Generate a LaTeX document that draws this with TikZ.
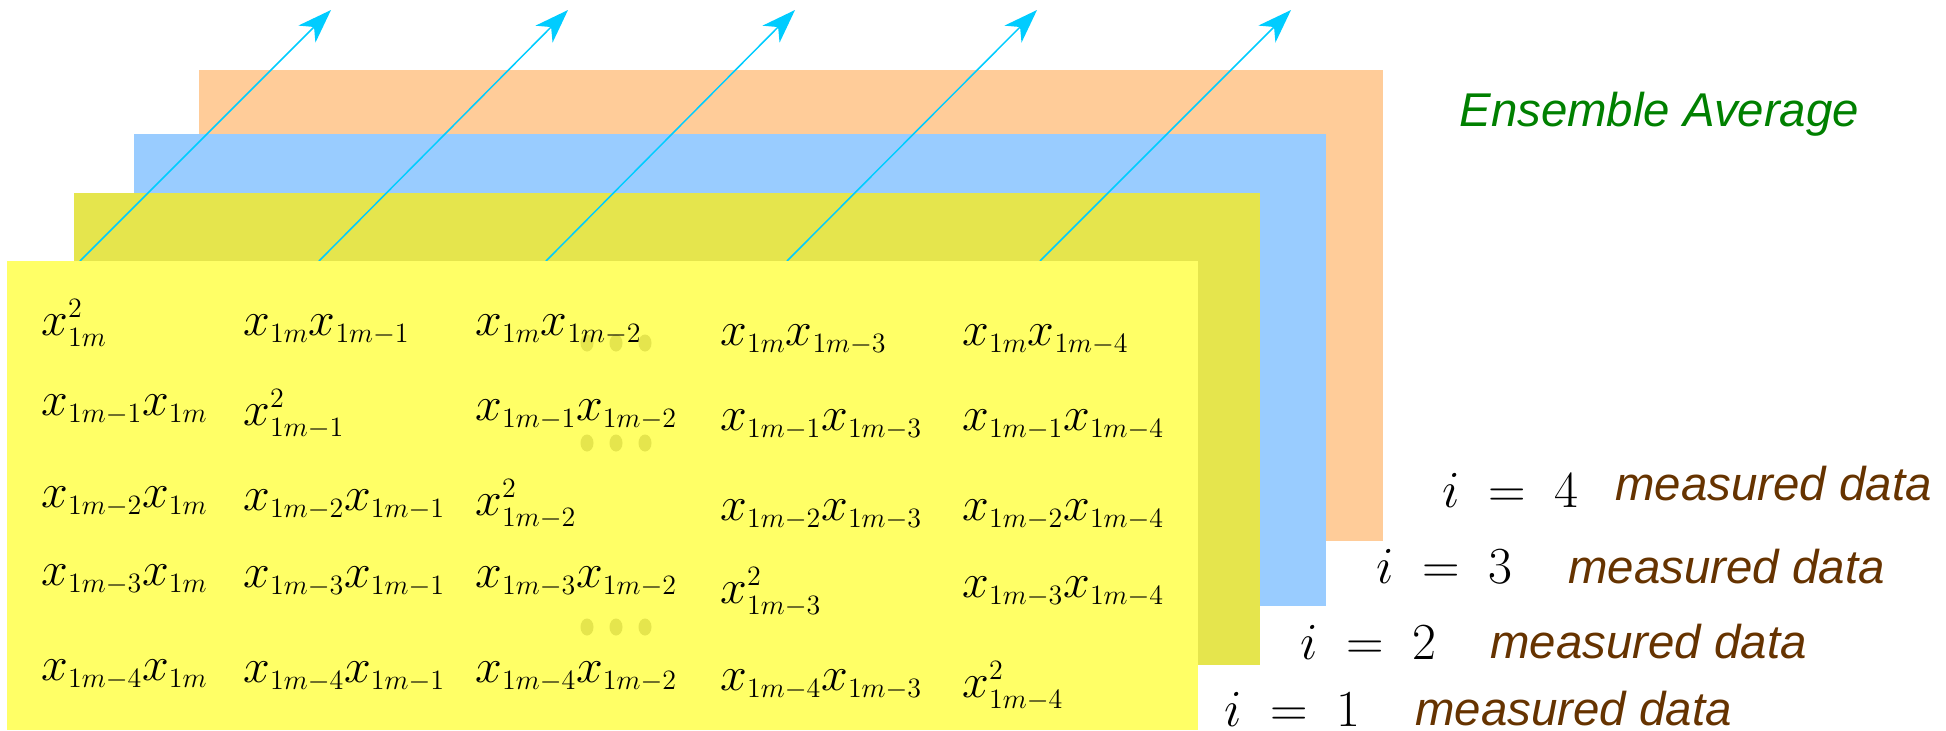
\RequirePackage{fix-cm}
\documentclass[tikz,border=0pt]{standalone}
\usepackage{fontspec}
\usetikzlibrary{arrows.meta,shapes.geometric}
\newfontfamily\lsans{Liberation Sans}
\DeclareMathSizes{24}{24}{14}{10}
\definecolor{peach}{HTML}{FFCC99}
\definecolor{skyb}{HTML}{99CCFF}
\definecolor{olivey}{HTML}{E5E54D}
\definecolor{yel}{HTML}{FFFF66}
\definecolor{arrc}{HTML}{00CCFF}
\definecolor{brn}{HTML}{663300}
\definecolor{grn}{HTML}{008000}
\tikzset{
  term/.style={anchor=base west, inner sep=0pt, font=\fontsize{24}{28}\selectfont},
  ilabel/.style={anchor=base west, inner sep=0pt, font=\fontsize{26}{30}\selectfont},
  mlabel/.style={anchor=base west, inner sep=0pt, text=brn, font=\lsans\itshape\fontsize{23.7}{28}\selectfont},
  avg/.style={line width=0.75pt, draw=arrc, -{Stealth[length=17pt,width=12pt,inset=5pt,fill=arrc]}},
  dotmark/.style={fill=olivey, draw=none, ellipse, minimum width=6.5pt, minimum height=8.5pt, inner sep=0pt}
}
\begin{document}
\begin{tikzpicture}[x=0.5pt,y=-0.5pt]
\useasboundingbox (0,0) rectangle (1946,730);
% layers
\fill[peach] (199,70) rectangle (1383,541);
\fill[skyb] (134,134) rectangle (1326,606);
\fill[olivey] (74,193) rectangle (1260,665);
% ensemble average arrows
\coordinate (s1) at (80,261);   \coordinate (t1) at (331,10);
\coordinate (s2) at (319,261);  \coordinate (t2) at (568,10);
\coordinate (s3) at (546,261);  \coordinate (t3) at (795,10);
\coordinate (s4) at (787,261);  \coordinate (t4) at (1037,10);
\coordinate (s5) at (1040,261); \coordinate (t5) at (1291,10);
\foreach \k in {1,...,5} { \draw[avg] (s\k) -- (t\k); }
\fill[yel] (7,261) rectangle (1198,730);
% dots
\foreach \y [count=\r] in {343,443,627} {
  \node[dotmark] (d\r a) at (587,\y) {};
  \node[dotmark] (d\r b) at (616,\y) {};
  \node[dotmark] (d\r c) at (645,\y) {};
}
% matrix terms
% row 1
\node[term] (m11) at (41,335)  {$x^{2}_{1m}$};
\node[term] (m12) at (243,335) {$x_{1m}x_{1m-1}$};
\node[term] (m13) at (475,335) {$x_{1m}x_{1m-2}$};
\node[term] (m14) at (720,345) {$x_{1m}x_{1m-3}$};
\node[term] (m15) at (962,345) {$x_{1m}x_{1m-4}$};
% row 2
\node[term] (m21) at (41,415)  {$x_{1m-1}x_{1m}$};
\node[term] (m22) at (243,425) {$x^{2}_{1m-1}$};
\node[term] (m23) at (475,420) {$x_{1m-1}x_{1m-2}$};
\node[term] (m24) at (720,430) {$x_{1m-1}x_{1m-3}$};
\node[term] (m25) at (962,430) {$x_{1m-1}x_{1m-4}$};
% row 3
\node[term] (m31) at (41,507)  {$x_{1m-2}x_{1m}$};
\node[term] (m32) at (243,510) {$x_{1m-2}x_{1m-1}$};
\node[term] (m33) at (475,515) {$x^{2}_{1m-2}$};
\node[term] (m34) at (720,520) {$x_{1m-2}x_{1m-3}$};
\node[term] (m35) at (962,520) {$x_{1m-2}x_{1m-4}$};
% row 4
\node[term] (m41) at (41,585)  {$x_{1m-3}x_{1m}$};
\node[term] (m42) at (243,587) {$x_{1m-3}x_{1m-1}$};
\node[term] (m43) at (475,587) {$x_{1m-3}x_{1m-2}$};
\node[term] (m44) at (720,603) {$x^{2}_{1m-3}$};
\node[term] (m45) at (962,597) {$x_{1m-3}x_{1m-4}$};
% row 5
\node[term] (m51) at (41,680)  {$x_{1m-4}x_{1m}$};
\node[term] (m52) at (243,682) {$x_{1m-4}x_{1m-1}$};
\node[term] (m53) at (475,682) {$x_{1m-4}x_{1m-2}$};
\node[term] (m54) at (720,690) {$x_{1m-4}x_{1m-3}$};
\node[term] (m55) at (962,697) {$x^{2}_{1m-4}$};
% labels
\node[anchor=base west, inner sep=0pt, text=grn, font=\lsans\itshape\fontsize{23.7}{28}\selectfont] (ens) at (1459,126) {Ensemble Average};
\node[ilabel] (i4) at (1442,507) {$i\;=\;4$};
\node[mlabel] (md4) at (1615,500) {measured data};
\node[ilabel] (i3) at (1376,583) {$i\;=\;3$};
\node[mlabel] (md3) at (1568,583) {measured data};
\node[ilabel] (i2) at (1300,659) {$i\;=\;2$};
\node[mlabel] (md2) at (1490,658) {measured data};
\node[ilabel] (i1) at (1224,726) {$i\;=\;1$};
\node[mlabel] (md1) at (1415,725) {measured data};
\end{tikzpicture}
\end{document}
